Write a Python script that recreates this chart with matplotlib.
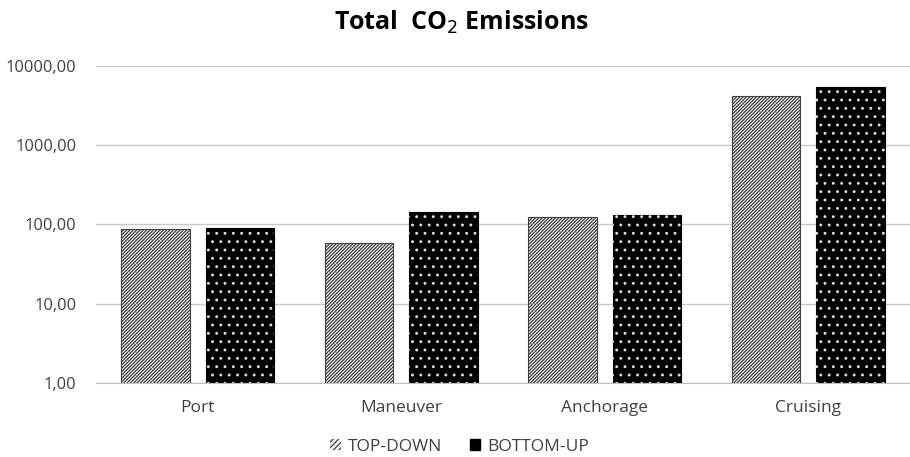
import matplotlib
matplotlib.use("Agg")
import matplotlib.pyplot as plt
import numpy as np
from matplotlib.patches import Patch
from matplotlib.ticker import FixedLocator, FuncFormatter

categories = ["Port", "Maneuver", "Anchorage", "Cruising"]
top_down = [88, 58, 124, 4180]
bottom_up = [90, 144, 132, 5430]
series_names = ["TOP-DOWN", "BOTTOM-UP"]
yticks = [1, 10, 100, 1000, 10000]

plt.rcParams['font.family'] = ['Open Sans', 'DejaVu Sans']
plt.rcParams['hatch.linewidth'] = 0.9

fig = plt.figure(figsize=(9.1, 4.57), dpi=100)
ax = fig.add_axes([0.1055, 0.162, 0.8945, 0.6936])

x = np.arange(len(categories))
w = 0.335
gap = 0.08
off = (w + gap) / 2

# TOP-DOWN: light with dense diagonal hatch
ax.bar(x - off, top_down, w, color="#f4f4f4", edgecolor="#404040", hatch="/" * 10,
       linewidth=0.8, zorder=3)
# BOTTOM-UP: black with white dots
ax.bar(x + off, bottom_up, w, color="black", edgecolor="black", linewidth=0.8, zorder=3)
ax.bar(x + off, bottom_up, w, color="none", edgecolor="#dddddd", hatch="..",
       linewidth=0, zorder=4)

ax.set_yscale("log")
ax.set_ylim(1, 10000)
ax.set_xlim(-0.5, len(categories) - 0.5)
ax.yaxis.set_major_locator(FixedLocator(yticks))
ax.yaxis.set_minor_locator(FixedLocator([]))
ax.yaxis.set_major_formatter(FuncFormatter(lambda v, p: f"{v:.2f}".replace(".", ",")))
ax.set_xticks(x)
ax.set_xticklabels(categories)

ax.grid(axis="y", color="#c8c8c8", linewidth=1, zorder=0)
for s in ["left", "right", "top"]:
    ax.spines[s].set_visible(False)
ax.spines["bottom"].set_color("#bfbfbf")
ax.tick_params(axis="both", length=0, colors="#404040")
ax.tick_params(axis="y", pad=14, labelsize=11.8)
ax.tick_params(axis="x", pad=12, labelsize=12.5)

fig.text(0.507, 0.952, r"Total  CO$_2$ Emissions", ha="center", va="center",
         fontsize=18, fontweight="bold", color="black")

handles = [
    Patch(facecolor="#f4f4f4", edgecolor="#404040", hatch="/" * 6, linewidth=0.0),
    Patch(facecolor="black", edgecolor="black"),
]
leg = fig.legend(handles, series_names, loc="center", bbox_to_anchor=(0.505, 0.022),
                 ncol=2, frameon=False, fontsize=12.5, handlelength=0.6, handleheight=0.6,
                 handletextpad=0.4, columnspacing=1.6)
for t in leg.get_texts():
    t.set_color("#404040")

fig.savefig("out.png", dpi=100)
